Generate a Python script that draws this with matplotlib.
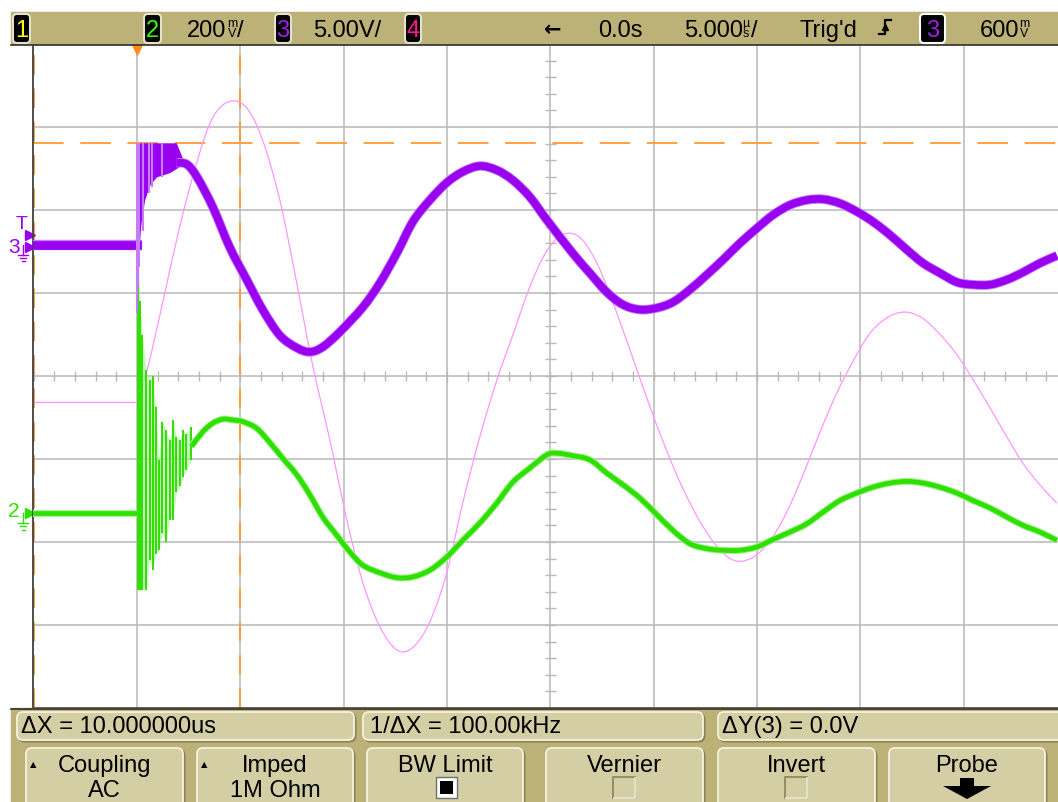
import numpy as np
import matplotlib.pyplot as plt
from matplotlib.patches import FancyBboxPatch, Rectangle, Polygon, PathPatch
from matplotlib.path import Path

plt.rcParams['lines.scale_dashes'] = False
FONT = ['Liberation Sans Narrow', 'Liberation Sans', 'DejaVu Sans']

# time in us (5 us/div, trigger at t=0), amplitude in screen divisions (8 div high)
# channel 4 / pink reference trace
pink_pre_t = [-5.0, 0.0]
pink_pre_y = [-0.31, -0.31]
pink_t = [0.0, 0.52, 1.24, 2.07, 2.89, 3.66, 4.49, 5.31, 6.08, 6.91,
          7.73, 8.50, 9.33, 10.15, 10.93, 11.75, 12.57, 13.35, 14.17, 14.99,
          15.76, 16.59, 17.41, 18.18, 19.00, 19.83, 20.65, 21.47, 22.29, 23.11,
          23.94, 24.76, 25.58, 26.40, 27.23, 28.05, 28.87, 29.69, 30.52, 31.34,
          32.16, 32.99, 33.81, 34.63, 35.45, 36.28, 37.10, 37.92, 38.74, 39.57,
          40.39, 41.21, 42.03, 42.86, 43.68, 44.50]
pink_y = [-0.31, 0.10, 0.88, 1.80, 2.57, 3.11, 3.31, 3.23, 2.84, 2.12,
          1.12, 0.13, -0.77, -1.73, -2.49, -3.02, -3.30, -3.27, -2.96, -2.37,
          -1.53, -0.73, -0.05, 0.49, 1.07, 1.51, 1.71, 1.66, 1.34, 0.83,
          0.25, -0.33, -0.87, -1.35, -1.75, -2.05, -2.22, -2.20, -2.02, -1.69,
          -1.23, -0.71, -0.23, 0.17, 0.51, 0.70, 0.77, 0.71, 0.53, 0.29,
          -0.02, -0.36, -0.71, -1.05, -1.31, -1.53]

# channel 3 (purple, 5.00V/div)
ch3_pre_t = [-5.0, 0.0]
ch3_pre_y = [1.58, 1.58]
ch3_ring_t = [0.05, 0.2, 0.37, 0.61, 0.95, 1.58, 1.90, 2.21]
ch3_ring_hi = [2.81, 2.81, 2.81, 2.81, 2.81, 2.81, 2.81, 2.62]
ch3_ring_lo = [1.40, 1.85, 2.12, 2.30, 2.40, 2.45, 2.50, 2.55]
ch3_spike_t = [0.0, 0.05, 0.1, 0.3, 0.6, 0.75, 1.2]
ch3_spike_lo = [0.76, 1.07, 1.31, 1.75, 2.20, 2.28, 2.40]
ch3_t = [1.92, 2.41, 2.90, 3.66, 4.49, 5.31, 6.08, 6.91, 7.73, 8.36,
         8.99, 9.81, 10.93, 11.75, 12.57, 13.35, 14.17, 14.99, 15.76, 16.59,
         17.41, 18.18, 19.00, 19.83, 21.08, 21.91, 22.73, 23.51, 24.33, 25.15,
         25.93, 26.75, 27.57, 28.35, 29.17, 29.99, 30.77, 31.59, 32.41, 33.19,
         34.01, 34.83, 35.60, 36.43, 37.25, 38.03, 38.85, 39.67, 40.44, 41.27,
         42.09, 42.87, 43.69, 44.51]
ch3_y = [2.57, 2.55, 2.40, 2.04, 1.55, 1.16, 0.80, 0.49, 0.34, 0.29,
         0.35, 0.53, 0.83, 1.12, 1.48, 1.86, 2.12, 2.33, 2.46, 2.53,
         2.48, 2.36, 2.16, 1.88, 1.48, 1.24, 1.01, 0.86, 0.80, 0.82,
         0.89, 1.04, 1.22, 1.40, 1.60, 1.78, 1.94, 2.06, 2.12, 2.13,
         2.08, 1.98, 1.86, 1.70, 1.52, 1.36, 1.24, 1.13, 1.10, 1.10,
         1.16, 1.25, 1.36, 1.45]

# channel 2 (green, 200mV/div)
ch2_pre_t = [-5.0, 0.0]
ch2_pre_y = [-1.65, -1.65]
ch2_spike_t = [0.05, 0.16, 0.26, 0.45, 0.61, 0.76, 0.91, 1.07, 1.23, 1.39,
               1.58, 1.74, 1.91, 2.07, 2.23, 2.39, 2.63]
ch2_spike_hi = [1.42, 0.90, 0.50, 0.07, -0.05, 0.00, -0.37, -1.01, -0.55, -0.65,
                -0.77, -0.53, -0.73, -0.77, -0.65, -0.70, -0.61]
ch2_spike_lo = [-2.58, -2.58, -2.58, -2.58, -2.22, -2.34, -2.14, -2.10, -1.89, -2.00,
                -1.73, -1.73, -1.40, -1.33, -1.22, -1.13, -1.01]
ch2_t = [2.63, 3.19, 3.66, 4.15, 4.63, 5.12, 5.79, 6.42, 7.05, 7.73,
         8.36, 8.99, 9.67, 10.30, 10.93, 11.75, 12.57, 13.35, 14.17, 14.99,
         15.76, 16.59, 17.41, 18.18, 19.00, 19.83, 20.31, 21.08, 21.91, 22.73,
         23.51, 24.33, 25.15, 25.93, 26.75, 27.57, 28.35, 29.17, 29.99, 30.77,
         31.59, 32.41, 33.19, 34.01, 34.83, 35.60, 36.43, 37.25, 38.03, 38.85,
         39.67, 40.44, 41.27, 42.09, 42.87, 43.69, 44.51]
ch2_y = [-0.85, -0.67, -0.57, -0.52, -0.53, -0.55, -0.63, -0.80, -0.99, -1.19,
         -1.43, -1.70, -1.92, -2.12, -2.28, -2.37, -2.43, -2.42, -2.34, -2.18,
         -1.98, -1.77, -1.53, -1.28, -1.11, -0.95, -0.93, -0.96, -1.01, -1.17,
         -1.31, -1.47, -1.67, -1.86, -2.02, -2.08, -2.10, -2.10, -2.06, -1.97,
         -1.88, -1.78, -1.64, -1.50, -1.41, -1.34, -1.29, -1.27, -1.29, -1.34,
         -1.41, -1.50, -1.59, -1.70, -1.80, -1.88, -1.98]

# cursors and channel levels
cursor_x = [-5.0, 5.0]
cursor_y = 2.81
ch3_ground = 1.58
ch3_trig = 1.70
ch2_ground = -1.65

PURPLE = '#9a00f0'
PURPLE_L = '#c47cf7'
GREEN = '#2ee000'
GREEN_L = '#a6ef94'
PINK = '#ff96ff'
ORANGE = '#ff9a30'
GRID = '#b8b8b8'
KHAKI = '#bcb277'
BOXC = '#d4cea4'


def smooth(t, y):
    # smooth bezier path through the read points
    p = np.column_stack([t, y])
    verts = [p[0]]
    codes = [Path.MOVETO]
    n = len(p)
    for i in range(n - 1):
        p0 = p[max(i - 1, 0)]
        p3 = p[min(i + 2, n - 1)]
        verts += [p[i] + (p[i + 1] - p0) / 6, p[i + 1] - (p3 - p[i]) / 6, p[i + 1]]
        codes += [Path.CURVE4] * 3
    return Path(verts, codes)


W, H = 1058, 802
fig = plt.figure(figsize=(W / 100, H / 100), dpi=100)
fig.patch.set_facecolor('white')

ax = fig.add_axes([33 / W, (H - 708) / H, (W - 33) / W, (708 - 44) / H])
ax.set_xlim(-5.03, 44.56)
ax.set_ylim(-4, 4)
ax.set_xticks(np.arange(0, 45, 5))
ax.set_yticks(np.arange(-3, 4, 1))
ax.set_axisbelow(True)
ax.grid(True, color=GRID, lw=1.1)
ax.tick_params(length=0, labelbottom=False, labelleft=False)
for s in ['top', 'bottom', 'left']:
    ax.spines[s].set_color('#404040')
    ax.spines[s].set_linewidth(1.3)
ax.spines['right'].set_visible(False)

# minor ticks on the centre lines
ax.vlines(np.arange(-5, 45, 1.0), -0.06, 0.06, color=GRID, lw=1)
ax.hlines(np.arange(-4, 4.01, 0.2), 19.75, 20.25, color=GRID, lw=1)

# cursors
for cx in cursor_x:
    ax.axvline(cx, color=ORANGE, lw=1.3, dashes=(14, 10), zorder=2)
ax.axhline(cursor_y, color=ORANGE, lw=1.3, dashes=(22, 12), zorder=2)

# traces
ax.plot(pink_pre_t, pink_pre_y, color=PINK, lw=0.9, zorder=3)
ax.add_patch(PathPatch(smooth(pink_t, pink_y), fill=False, ec=PINK, lw=0.9, zorder=3))

ax.plot(ch2_pre_t, ch2_pre_y, color=GREEN_L, lw=5, zorder=4)
ax.plot(ch2_pre_t, ch2_pre_y, color=GREEN, lw=3.3, zorder=4)
ax.fill_between(ch2_spike_t, ch2_spike_lo, ch2_spike_hi, color=GREEN_L, alpha=0.6, lw=0, zorder=4)
ax.vlines(ch2_spike_t, ch2_spike_lo, ch2_spike_hi, color=GREEN, lw=1.4, zorder=4)
ax.add_patch(PathPatch(smooth(ch2_t, ch2_y), fill=False, ec=GREEN_L, lw=5, zorder=4))
ax.add_patch(PathPatch(smooth(ch2_t, ch2_y), fill=False, ec=GREEN, lw=3.4, zorder=4))

ax.plot(ch3_pre_t, ch3_pre_y, color=PURPLE_L, lw=7.5, zorder=5)
ax.plot(ch3_pre_t, ch3_pre_y, color=PURPLE, lw=6.2, zorder=5)
ax.fill_between(ch3_ring_t, ch3_ring_lo, ch3_ring_hi, color=PURPLE, lw=0, zorder=5)
ax.vlines(ch3_spike_t, ch3_spike_lo, cursor_y, color=PURPLE_L, lw=1.5, zorder=5)
ax.add_patch(PathPatch(smooth(ch3_t, ch3_y), fill=False, ec=PURPLE_L, lw=6.8, zorder=5))
ax.add_patch(PathPatch(smooth(ch3_t, ch3_y), fill=False, ec=PURPLE, lw=5.5, zorder=5))

# trigger position marker
ax.plot([0], [3.94], marker='v', ms=10, color='#ff8c1a', mec='none', clip_on=False, zorder=6)

# channel markers at the left edge
yt = ax.get_yaxis_transform()
px = 1 / 1025


def ground(y, color):
    ax.plot([-10 * px, -10 * px], [y, y - 0.12], color=color, lw=1, transform=yt, clip_on=False)
    for dy, hw in [(0.12, 5), (0.16, 3), (0.20, 1.5)]:
        ax.plot([(-10 - hw) * px, (-10 + hw) * px], [y - dy, y - dy], color=color, lw=1,
                transform=yt, clip_on=False)


ax.plot([-3 * px], [ch3_trig], marker='>', ms=7, color=PURPLE, transform=yt, clip_on=False)
ax.plot([-3 * px], [ch3_ground - 0.03], marker='>', ms=7, color=PURPLE, transform=yt, clip_on=False)
ax.text(-11 * px, ch3_trig + 0.12, 'T', color=PURPLE, fontsize=14, ha='center', va='center',
        transform=yt, family=FONT)
ax.text(-19 * px, ch3_ground - 0.03, '3', color=PURPLE, fontsize=15, ha='center', va='center',
        transform=yt, family=FONT)
ground(ch3_ground, PURPLE)
ax.plot([-3 * px], [ch2_ground], marker='>', ms=7, color=GREEN, transform=yt, clip_on=False)
ax.text(-19 * px, ch2_ground + 0.02, '2', color=GREEN, fontsize=15, ha='center', va='center',
        transform=yt, family=FONT)
ground(ch2_ground, GREEN)

# instrument chrome
ui = fig.add_axes([0, 0, 1, 1], zorder=5)
ui.set_xlim(0, W)
ui.set_ylim(H, 0)
ui.axis('off')

ui.add_patch(Rectangle((11, 12), W - 11, 32, color=KHAKI))
ui.plot([11, W], [44.5, 44.5], color='#303030', lw=1.2)


def badge(x0, x1, label, color, ec='#e6e2cc'):
    ui.add_patch(FancyBboxPatch((x0, 14), x1 - x0, 29, boxstyle='round,pad=0,rounding_size=4',
                                fc='black', ec=ec, lw=1.5))
    ui.text((x0 + x1) / 2, 37, label, color=color, ha='center', va='baseline', fontsize=17,
            family=FONT)


def txt(x, s, **kw):
    ui.text(x, 37, s, ha='left', va='baseline', fontsize=17, family=FONT, color='black', **kw)


def unit(x, top, bottom):
    ui.text(x, 27, top, ha='center', va='baseline', fontsize=9, family=FONT)
    ui.text(x, 37, bottom, ha='center', va='baseline', fontsize=9, family=FONT)


badge(13, 30, '1', '#ffff00')
badge(144, 161, '2', '#33ff00')
txt(187, '200')
unit(232, 'm', 'V')
txt(237, '/')
badge(275, 291, '3', '#a020f0')
txt(313, '5.00V/')
badge(405, 421, '4', '#ff1493')
ui.text(553, 36, '←', ha='center', va='baseline', fontsize=15, fontweight='bold', family='DejaVu Sans')
txt(598, '0.0s')
txt(684, '5.000')
unit(746, 'µ', 's')
txt(751, '/')
txt(800, "Trig'd")
ui.plot([879, 885, 885, 891], [34, 34, 20, 20], color='black', lw=1.6)
ui.plot([885], [27], marker='^', ms=5, color='black')
badge(920, 945, '3', '#a020f0', ec='white')
txt(980, '600')
unit(1024, 'm', 'V')

# bottom soft-key panel
ui.add_patch(Rectangle((11, 708), W - 11, H - 708, color=KHAKI))
ui.plot([11, W], [708.5, 708.5], color='#303030', lw=1.2)


def box(x0, x1, y0, y1):
    ui.add_patch(FancyBboxPatch((x0 + 1.5, y0 + 1.5), x1 - x0, y1 - y0,
                                boxstyle='round,pad=0,rounding_size=6', fc='none', ec='#8a8358', lw=1.5))
    ui.add_patch(FancyBboxPatch((x0, y0), x1 - x0, y1 - y0,
                                boxstyle='round,pad=0,rounding_size=6', fc=BOXC, ec='#f6f2de', lw=1.3))


box(17, 354, 712, 740)
box(363, 703, 712, 740)
box(718, 1070, 712, 740)
for s, x in [('ΔX = 10.000000us', 21), ('1/ΔX = 100.00kHz', 370), ('ΔY(3) = 0.0V', 722)]:
    ui.text(x, 733, s, ha='left', va='baseline', fontsize=17, family=FONT)

keys = [(26, 183, 'Coupling', 'AC'), (197, 353, 'Imped', '1M Ohm'), (367, 523, 'BW Limit', None),
        (546, 703, 'Vernier', None), (718, 875, 'Invert', None), (889, 1045, 'Probe', None)]
for x0, x1, top, bottom in keys:
    box(x0, x1, 748, 830)
    cx = (x0 + x1) / 2
    if bottom:
        ui.text(x0 + 7, 765, '▲', ha='center', va='center', fontsize=6, family='DejaVu Sans')
        ui.text(cx, 797, bottom, ha='center', va='baseline', fontsize=17, family=FONT)
    ui.text(cx, 772, top, ha='center', va='baseline', fontsize=17, family=FONT)

# check boxes and probe arrow
ui.add_patch(Rectangle((436, 777), 21, 21, fc='white', ec='#707070', lw=1))
ui.add_patch(Rectangle((440, 781), 13, 13, fc='black', ec='none'))
for cx in [624, 796]:
    ui.add_patch(Rectangle((cx - 11, 777), 22, 21, fc=BOXC, ec='#8a8358', lw=1.2))
    ui.plot([cx - 10, cx + 11, cx + 11], [797.5, 797.5, 778], color='#f6f2de', lw=1.2)
ui.add_patch(Polygon([[960, 778], [974, 778], [974, 786], [991, 786], [967, 799], [943, 786], [960, 786]],
                     closed=True, fc='black', ec='none'))

fig.savefig('out.png', dpi=100)
